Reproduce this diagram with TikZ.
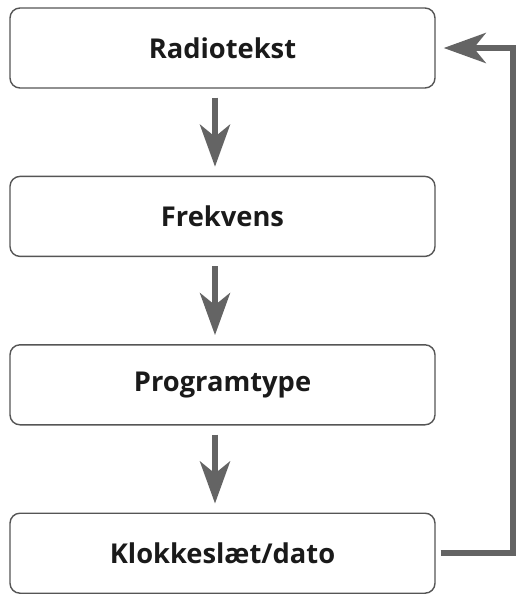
\documentclass[tikz,border=0pt]{standalone}
\usepackage{fontspec}
\setmainfont{Open Sans}
\usetikzlibrary{arrows.meta,positioning}
\definecolor{boxgray}{RGB}{85,85,85}
\definecolor{arrowgray}{RGB}{100,100,100}
\definecolor{textdark}{RGB}{26,26,26}
\tikzset{
  menubox/.style={rectangle, rounded corners=10pt, draw=boxgray, line width=1.4pt,
    minimum width=425pt, minimum height=80pt, text=textdark,
    font=\fontsize{27.3}{31}\selectfont\bfseries, inner sep=0pt},
  flowarrow/.style={line width=6pt, color=arrowgray, line join=miter,
    -{Stealth[length=42pt,width=30pt,inset=12pt]}}
}
\begin{document}
\begin{tikzpicture}[x=1pt, y=-1pt, node distance=87pt]
\useasboundingbox (0,0) rectangle (523,595);
% Menu items
\node (radio) [menubox] at (222.5,48) {Radiotekst};
\node (freq) [menubox, below=of radio] {Frekvens};
\node (ptype) [menubox, below=of freq] {Programtype};
\node (clock) [menubox, below=of ptype] {Klokkeslæt/dato};

% Arrows
\draw[flowarrow, shorten <=9pt, shorten >=9pt] (radio.south -| 215,0) -- (freq.north -| 215,0);
\draw[flowarrow, shorten <=9pt, shorten >=9pt] (freq.south -| 215,0) -- (ptype.north -| 215,0);
\draw[flowarrow, shorten <=9pt, shorten >=9pt] (ptype.south -| 215,0) -- (clock.north -| 215,0);
\draw[flowarrow, shorten <=5pt, shorten >=8pt] (clock.east) -- ++(77,0) |- (radio.east);
\end{tikzpicture}
\end{document}
